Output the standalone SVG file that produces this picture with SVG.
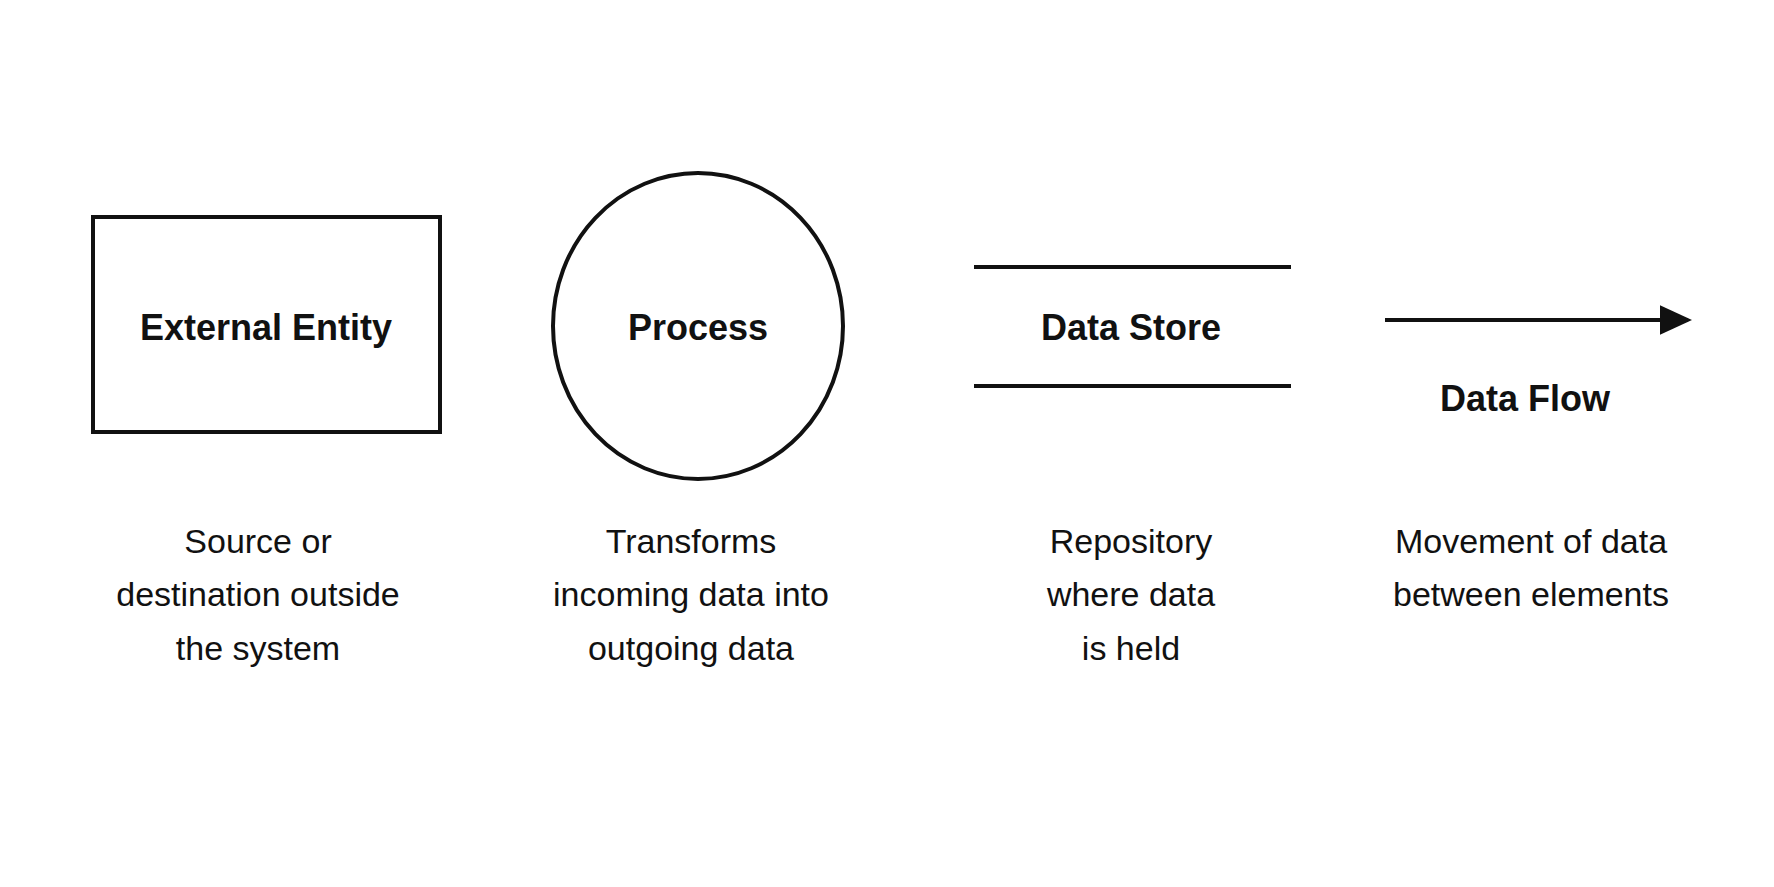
<svg xmlns="http://www.w3.org/2000/svg" width="1774" height="887" viewBox="0 0 1774 887">
<style>
.s{fill:none;stroke:#111;stroke-width:4}
.t{font-family:"Liberation Sans",Arial,sans-serif;font-weight:bold;font-size:36px;fill:#111;text-anchor:middle}
.d{font-family:"Liberation Sans",Arial,sans-serif;font-size:34px;fill:#111;text-anchor:middle}
</style>
<defs><marker id="ah" markerWidth="8" markerHeight="8" refX="7" refY="4" orient="auto" markerUnits="strokeWidth"><path d="M0,0.3 L8,4 L0,7.7 Z" fill="#111"/></marker></defs>
<rect width="1774" height="887" fill="#fff"/>
<g id="external-entity">
<rect class="s" x="93" y="217" width="347" height="215"/>
<text class="t" x="266" y="340">External Entity</text>
<text class="d" x="258" y="553">Source or</text>
<text class="d" x="258" y="606">destination outside</text>
<text class="d" x="258" y="660">the system</text>
</g>
<g id="process">
<ellipse class="s" cx="698" cy="326" rx="145" ry="153"/>
<text class="t" x="698" y="340">Process</text>
<text class="d" x="691" y="553">Transforms</text>
<text class="d" x="691" y="606">incoming data into</text>
<text class="d" x="691" y="660">outgoing data</text>
</g>
<g id="data-store">
<line class="s" x1="974" y1="267" x2="1291" y2="267"/>
<line class="s" x1="974" y1="386" x2="1291" y2="386"/>
<text class="t" x="1131" y="340">Data Store</text>
<text class="d" x="1131" y="553">Repository</text>
<text class="d" x="1131" y="606">where data</text>
<text class="d" x="1131" y="660">is held</text>
</g>
<g id="connectors">
<line class="s" x1="1385" y1="320" x2="1688" y2="320" marker-end="url(#ah)"/>
</g>
<g id="data-flow">
<text class="t" x="1525" y="411">Data Flow</text>
<text class="d" x="1531" y="553">Movement of data</text>
<text class="d" x="1531" y="606">between elements</text>
</g>
</svg>
